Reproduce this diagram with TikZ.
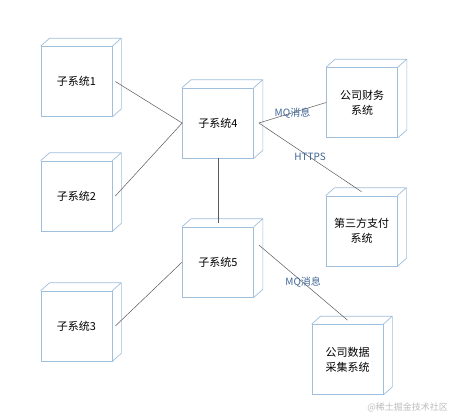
\documentclass[tikz,border=0pt]{standalone}
\usepackage{fontspec}
\setmainfont{Noto Sans CJK SC}
\definecolor{boxblue}{HTML}{9FBFDC}
\definecolor{linegray}{HTML}{5A5A5A}
\definecolor{labelblue}{HTML}{3F6798}
\definecolor{markgray}{HTML}{BDBDBD}

\begin{document}
\begin{tikzpicture}[x=1pt, y=-1pt,
    sysnode/.style={draw=boxblue, line width=0.7pt, minimum width=71pt,
      minimum height=70pt, inner sep=0pt, align=center,
      font=\fontsize{11}{15}\selectfont},
    link/.style={draw=linegray, line width=0.5pt},
    msg/.style={text=labelblue, inner sep=1pt, font=\fontsize{10}{12}\selectfont}]
  \fill [white] (0, 0) rectangle (452, 418);
  \useasboundingbox (0, 0) rectangle (452, 418);

  % Subsystems
  \node [sysnode] (s1) at (76.5, 81.5) {子系统1};
  \node [sysnode] (s2) at (76.5, 196) {子系统2};
  \node [sysnode] (s3) at (76.5, 326) {子系统3};
  \node [sysnode] (s4) at (218, 123) {子系统4};
  \node [sysnode] (s5) at (218, 262) {子系统5};

  % Outside systems
  \node [sysnode] (fin) at (362, 102.5) {公司财务\\系统};
  \node [sysnode] (pay) at (361.5, 231) {第三方支付\\系统};
  \node [sysnode] (data) at (347.5, 359.5) {公司数据\\采集系统};

  % Box depth
  \foreach \n in {s1, s2, s3, s4, s5, fin, pay, data}
    \draw [boxblue, line width=0.7pt] (\n.north west) -- ++(9, -8)
          -- ([shift={(9, -8)}]\n.north east)
          -- ([shift={(9, -8)}]\n.south east) -- (\n.south east)
          (\n.north east) -- ++(9, -8);

  % Edges
  \draw [link] ([xshift=3pt]s1.east) -- (s4.west);
  \draw [link] ([xshift=3pt]s2.east) -- (s4.west);
  \draw [link] ([xshift=3pt]s3.east) -- (s5.west);
  \draw [link] (s4.south) -- ([yshift=4pt]s5.north);
  \draw [link] ([xshift=5pt]s4.east) -- (fin.west)
        node [msg, midway] {MQ消息};
  \draw [link] ([xshift=5pt]s4.east) -- ([yshift=4pt]pay.north)
        node [msg, midway] {HTTPS};
  \draw [link] ([shift={(5, -17)}]s5.east) -- ([yshift=4pt]data.north)
        node [msg, midway] {MQ消息};

  % Watermark
  \node [text=markgray, anchor=east, inner sep=0pt,
    font=\fontsize{9}{11}\selectfont] (mark) at (448, 407) {@稀土掘金技术社区};
\end{tikzpicture}
\end{document}
